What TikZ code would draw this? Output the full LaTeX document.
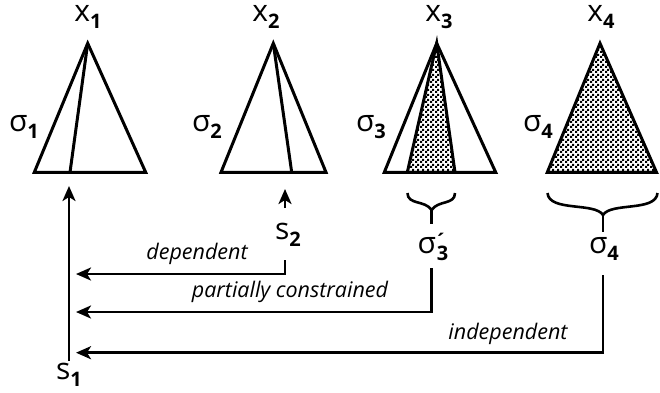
\documentclass[tikz,border=0pt]{standalone}
\usepackage{fontspec}
\setmainfont{Open Sans}
\usetikzlibrary{patterns,arrows.meta}
\pgfdeclarepatternformonly{finecheck}{\pgfpointorigin}{\pgfqpoint{5pt}{5pt}}{\pgfqpoint{5pt}{5pt}}{%
  \pgfpathrectangle{\pgfpointorigin}{\pgfqpoint{2.5pt}{2.5pt}}%
  \pgfpathrectangle{\pgfqpoint{2.5pt}{2.5pt}}{\pgfqpoint{2.5pt}{2.5pt}}%
  \pgfusepath{fill}}
\tikzset{
  tri/.style={line width=3pt, line join=miter},
  conn/.style={line width=2.6pt, -{Stealth[length=15pt,width=13pt,inset=4pt]}},
  brace/.style={line width=2.6pt},
  lbl/.style={inner sep=1pt, font=\fontsize{30}{32}\selectfont},
  word/.style={inner sep=1pt, font=\fontsize{21.5}{24}\selectfont\itshape},
}
\newcommand{\sbs}[1]{\raisebox{-0.4ex}{\fontsize{20}{22}\selectfont\bfseries #1}}
\begin{document}
\begin{tikzpicture}[x=1pt,y=-1pt]
\useasboundingbox (0,0) rectangle (660,392);
% triangle 1
\coordinate (a1) at (87.7,43.3);
\draw[tri] (a1) -- (34.3,172.3) -- (145.7,172.3) -- cycle;
\draw[tri] (a1) -- (70,172.3);
% triangle 2
\coordinate (a2) at (273.3,43.3);
\draw[tri] (a2) -- (221,172.3) -- (326,172.3) -- cycle;
\draw[tri] (a2) -- (291.7,172.3);
% triangle 3
\coordinate (a3) at (436.7,43.3);
\fill[pattern=finecheck] (a3) -- (407.3,172.3) -- (455,172.3) -- cycle;
\draw[tri] (a3) -- (384.3,172.3) -- (495.7,172.3) -- cycle;
\draw[tri] (407.3,172.3) -- (a3) -- (455,172.3);
% triangle 4
\coordinate (a4) at (600,43.3);
\fill[pattern=finecheck] (a4) -- (547.3,172.3) -- (656.5,172.3) -- cycle;
\draw[tri] (a4) -- (547.3,172.3) -- (656.5,172.3) -- cycle;
% top labels
\node[lbl] (x1) at (88,17) {x\sbs{1}};
\node[lbl] (x2) at (266,17) {x\sbs{2}};
\node[lbl] (x3) at (439,17) {x\sbs{3}};
\node[lbl] (x4) at (601,17) {x\sbs{4}};
% sigma labels
\node[lbl] (s1l) at (24,127) {σ\sbs{1}};
\node[lbl] (s2l) at (207,127) {σ\sbs{2}};
\node[lbl] (s3l) at (371,127) {σ\sbs{3}};
\node[lbl] (s4l) at (538,127) {σ\sbs{4}};
% braces
\draw[brace] (407.5,193) .. controls (407.5,205) and (425,200) .. (431.7,210)
  .. controls (438,200) and (455,205) .. (455,193);
\draw[brace] (431.7,208) -- (431.7,224);
\draw[brace] (547.5,193) .. controls (549,212) and (595,202) .. (603,215)
  .. controls (611,202) and (656,212) .. (657.5,193);
\draw[brace] (603,213) -- (603,232);
\node[lbl] (sp3) at (433,247) {σ\rlap{\kern-1pt\raisebox{0.3ex}{\fontsize{20}{20}\selectfont\bfseries ´}}\kern1pt\sbs{3}};
\node[lbl] (sp4) at (604,249) {σ\sbs{4}};
% s nodes
\node[lbl] (s1) at (69,375) {s\sbs{1}};
\node[lbl] (s2) at (288,235) {s\sbs{2}};
\coordinate (s1top) at (69,186);
\coordinate (s1bot) at (69,361);
\coordinate (s2top) at (285,189);
\coordinate (s2a) at (285,208);
\coordinate (s2b) at (285,260);
\draw[conn] (s1bot) -- (s1top);
\draw[conn] (s2a) -- (s2top);
% connectors
\coordinate (d1) at (76,274);
\coordinate (d2) at (76,312);
\coordinate (d3) at (76,352.7);
\draw[conn] (s2b) |- (d1);
\draw[conn] (431.7,268) |- (d2);
\draw[conn] (603,275) |- (d3);
% words
\node[word] (w1) at (197,254) {dependent};
\node[word] (w2) at (290,292) {partially constrained};
\node[word] (w3) at (508,334) {independent};
\end{tikzpicture}
\end{document}
